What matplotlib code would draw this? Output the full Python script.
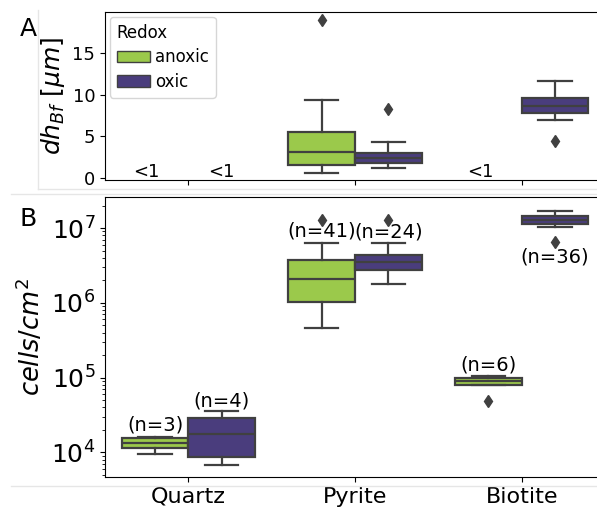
import numpy as np
import matplotlib
matplotlib.use("Agg")
from matplotlib import pyplot as plt
from matplotlib.lines import Line2D
from matplotlib.patches import Patch

categories = ["Quartz", "Pyrite", "Biotite"]
groups = ["anoxic", "oxic"]

# box summaries: (whislo, q1, med, q3, whishi); None = below detection (<1)
dh_anoxic = [None, (0.64, 1.56, 3.16, 5.48, 9.36), None]
dh_anoxic_fliers = [[], [18.96], []]
dh_oxic = [None, (1.24, 1.80, 2.36, 2.96, 4.32), (6.96, 7.84, 8.64, 9.56, 11.64)]
dh_oxic_fliers = [[], [8.24], [4.44]]

cells_anoxic = [(9.4e3, 1.15e4, 1.32e4, 1.54e4, 1.62e4),
                (4.66e5, 1.04e6, 2.09e6, 3.75e6, 6.4e6),
                (7.96e4, 7.96e4, 9.08e4, 9.8e4, 1.05e5)]
cells_anoxic_fliers = [[], [1.29e7], [4.87e4]]
cells_oxic = [(6.7e3, 8.73e3, 1.74e4, 2.85e4, 3.57e4),
              (1.79e6, 2.75e6, 3.49e6, 4.38e6, 6.4e6),
              (1.02e7, 1.14e7, 1.29e7, 1.46e7, 1.71e7)]
cells_oxic_fliers = [[], [1.29e7], [6.6e6]]

n_anoxic = [3, 41, 6]
n_oxic = [4, 24, 36]

colors = {"anoxic": "#9bc94b", "oxic": "#4a3d7d"}
edge = "#404040"


def draw_boxes(ax, summaries, fliers, pos_shift, color):
    stats, pos = [], []
    for i, (s, f) in enumerate(zip(summaries, fliers)):
        if s is None:
            continue
        lo, q1, med, q3, hi = s
        stats.append(dict(whislo=lo, q1=q1, med=med, q3=q3, whishi=hi, fliers=f))
        pos.append(i + pos_shift)
    ax.bxp(stats, positions=pos, widths=0.4, capwidths=0.2, patch_artist=True,
           manage_ticks=False,
           boxprops=dict(facecolor=color, edgecolor=edge, linewidth=1.6),
           medianprops=dict(color=edge, linewidth=1.6),
           whiskerprops=dict(color=edge, linewidth=1.6),
           capprops=dict(color=edge, linewidth=1.6),
           flierprops=dict(marker="d", markerfacecolor=edge, markeredgecolor=edge,
                           markersize=6))


fig = plt.figure(figsize=(5.97, 5.16), dpi=100)
W, H = 597.0, 516.0
ax1 = fig.add_axes([105 / W, 1 - 180 / H, 500 / W, 168 / H])
ax2 = fig.add_axes([105 / W, 1 - 477 / H, 500 / W, 280 / H])

# panel A
draw_boxes(ax1, dh_anoxic, dh_anoxic_fliers, -0.2, colors["anoxic"])
draw_boxes(ax1, dh_oxic, dh_oxic_fliers, 0.2, colors["oxic"])
for i, s in enumerate(dh_anoxic):
    if s is None:
        ax1.text(i - 0.25, 0.15, "<1", ha="center", va="baseline", fontsize=13)
for i, s in enumerate(dh_oxic):
    if s is None:
        ax1.text(i + 0.2, 0.15, "<1", ha="center", va="baseline", fontsize=13)
ax1.set_xlim(-0.5, 2.5)
ax1.set_ylim(-0.24, 19.9)
ax1.set_yticks([0, 5, 10, 15])
ax1.set_xticks(range(len(categories)))
ax1.set_xticklabels([])
ax1.tick_params(labelsize=13)
ax1.set_ylabel(r"$dh_{Bf}\ [\mu m]$", fontsize=18, labelpad=4)
handles = [Patch(facecolor=colors[g], edgecolor=edge, linewidth=1.0, label=g) for g in groups]
leg = ax1.legend(handles=handles, title="Redox", loc="upper left", fontsize=12,
                 title_fontsize=12, alignment="left", handlelength=2.0,
                 handletextpad=0.3, borderaxespad=0.3, borderpad=0.4, labelspacing=0.4)

# panel B
draw_boxes(ax2, cells_anoxic, cells_anoxic_fliers, -0.2, colors["anoxic"])
draw_boxes(ax2, cells_oxic, cells_oxic_fliers, 0.2, colors["oxic"])
ax2.set_yscale("log")
ax2.set_xlim(-0.5, 2.5)
ax2.set_ylim(4.7e3, 2.6e7)
for i in range(len(categories)):
    ax2.text(i - 0.2, cells_anoxic[i][4] * 1.42, f"(n={n_anoxic[i]})",
             ha="center", va="center", fontsize=14)
    if i == len(categories) - 1:
        y = min(cells_oxic_fliers[i]) / 1.6
    else:
        y = cells_oxic[i][4] * 1.38
    ax2.text(i + 0.2, y, f"(n={n_oxic[i]})", ha="center", va="center", fontsize=14)
ax2.set_xticks(range(len(categories)))
ax2.set_xticklabels(categories, fontsize=16)
ax2.tick_params(axis="y", labelsize=18)
ax2.set_ylabel(r"$cells/cm^2$", fontsize=18.5, labelpad=4)

fig.text(20 / W, 1 - 36 / H, "A", fontsize=18, va="baseline")
fig.text(20 / W, 1 - 226 / H, "B", fontsize=18, va="baseline")

# faint frame lines around the panels
gray = "#e6e6e6"
fig.add_artist(Line2D([38 / W, 38 / W], [1 - 10 / H, 1 - 188.5 / H], color=gray, lw=1))
fig.add_artist(Line2D([38 / W, 1], [1 - 188.5 / H, 1 - 188.5 / H], color=gray, lw=1))
fig.add_artist(Line2D([11 / W, 1], [1 - 194 / H, 1 - 194 / H], color=gray, lw=1))
fig.add_artist(Line2D([11 / W, 1], [1 - 486 / H, 1 - 486 / H], color=gray, lw=1))

fig.savefig("out.png", dpi=100)
